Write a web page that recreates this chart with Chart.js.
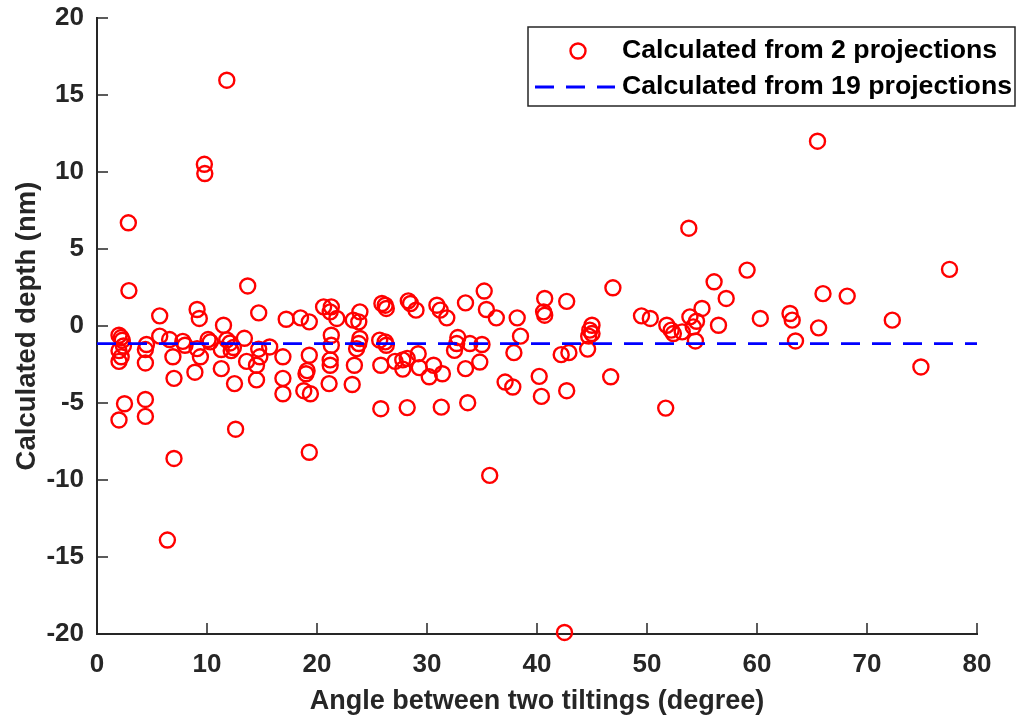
<!DOCTYPE html>
<html>
<head>
<meta charset="utf-8">
<script src="https://cdn.jsdelivr.net/npm/chart.js@4.4.0/dist/chart.umd.min.js"></script>
<style>
  html, body { margin: 0; padding: 0; background: #fff; }
  #wrap { width: 1020px; height: 715px; }
</style>
</head>
<body>
<div id="wrap"><canvas id="depthChart" width="1020" height="715"></canvas></div>
<script>
// angles (degree) and depths (nm) of the 2-projection estimates
const angles = [
  2.9, 13.7, 9.1, 9.3, 5.7, 14.7, 11.5, 17.2, 18.5, 19.3,
  2.0, 2.2, 2.3, 2.4, 2.0, 2.2, 2.0, 2.5, 2.0, 4.4,
  4.4, 4.5, 4.4, 4.4, 5.7, 6.6, 6.9, 7.0, 7.0, 7.8,
  8.0, 8.9, 9.4, 9.1, 10.1, 10.3, 11.3, 11.3, 12.1, 12.4,
  12.2, 11.8, 12.5, 12.6, 13.4, 13.6, 14.7, 14.8, 14.5, 14.5,
  15.7, 16.9, 16.9, 16.9, 19.3, 19.1, 19.0, 18.8, 19.4, 19.3,
  20.6, 21.3, 21.2, 21.8, 21.3, 21.3, 21.2, 21.2, 21.1, 23.3,
  23.9, 23.8, 23.9, 23.8, 23.6, 23.4, 23.2, 25.9, 26.2, 26.3,
  25.7, 26.2, 26.3, 25.8, 25.8, 28.3, 28.5, 29.0, 27.1, 27.8,
  28.2, 27.8, 29.2, 29.3, 30.2, 30.6, 31.4, 28.2, 30.9, 31.2,
  31.8, 32.8, 32.7, 32.5, 33.9, 35.0, 33.5, 34.8, 31.3, 33.7,
  33.5, 35.2, 35.4, 36.3, 35.7, 38.2, 38.5, 37.9, 37.1, 37.8,
  40.7, 40.6, 40.7, 42.7, 40.2, 40.4, 42.7, 42.2, 42.9, 46.9,
  45.0, 44.8, 45.0, 44.7, 44.6, 46.7, 49.5, 50.3, 51.7, 51.8,
  52.2, 52.4, 53.2, 53.9, 54.2, 54.5, 55.0, 54.4, 56.1, 57.2,
  56.5, 59.1, 60.3, 63.0, 63.2, 63.5, 66.0, 65.6, 68.2, 72.3,
  74.9, 77.5, 11.8, 9.76, 9.8, 2.85, 65.5, 6.4, 42.5, 53.8
];
const depths = [
  2.3, 2.6, 1.07, 0.49, 0.66, 0.85, 0.05, 0.44, 0.53, 0.27,
  -0.6, -0.75, -0.93, -1.3, -1.6, -2.0, -2.3, -5.05, -6.1, -4.77,
  -5.87, -1.2, -1.53, -2.4, -0.66, -0.88, -2.0, -3.4, -8.6, -1.0,
  -1.25, -3.0, -2.0, -1.47, -0.88, -1.03, -1.53, -2.77, -1.1, -1.4,
  -1.6, -0.9, -3.74, -6.7, -0.8, -2.3, -1.5, -2.0, -2.55, -3.5,
  -1.36, -2.0, -3.4, -4.4, -1.9, -2.9, -3.1, -4.2, -4.4, -8.2,
  1.24, 1.24, 0.92, 0.49, -0.6, -1.25, -2.2, -2.55, -3.74, 0.38,
  0.92, 0.27, -0.81, -1.14, -1.47, -2.55, -3.8, 1.46, 1.35, 1.14,
  -0.92, -1.03, -1.25, -2.55, -5.37, 1.63, 1.46, 1.03, -2.3, -2.2,
  -2.1, -2.8, -1.8, -2.7, -3.3, -2.55, -3.1, -5.3, 1.35, 1.03,
  0.53, -0.75, -1.14, -1.58, -1.14, -1.2, -2.77, -2.34, -5.27, -4.98,
  1.5, 2.27, 1.07, 0.53, -9.7, 0.53, -0.66, -1.73, -3.64, -3.96,
  1.79, 0.92, 0.7, 1.6, -3.27, -4.57, -4.2, -1.86, -1.73, 2.48,
  0.05, -0.27, -0.49, -0.66, -1.5, -3.3, 0.66, 0.49, -5.33, 0.05,
  -0.27, -0.49, -0.38, 0.59, -0.06, 0.31, 1.14, -0.97, 2.87, 1.79,
  0.05, 3.63, 0.49, 0.81, 0.38, -0.97, 2.1, -0.12, 1.94, 0.38,
  -2.66, 3.68, 15.96, 10.5, 9.9, 6.7, 12.0, -13.9, -19.9, 6.35
];

// result from 19 projections (constant)
const refDepth = -1.15;
const refAngles = [0, 80];

const xTicks = [0, 10, 20, 30, 40, 50, 60, 70, 80];
const yTicks = [-20, -15, -10, -5, 0, 5, 10, 15, 20];

const seriesLabels = ["Calculated from 2 projections", "Calculated from 19 projections"];

const axisColor = "#262626";
const fontFamily = "'Liberation Sans', Arial, Helvetica, sans-serif";

// MATLAB style ticks pointing into the axes
const inwardTicks = {
  id: "inwardTicks",
  afterDatasetsDraw(chart) {
    const { ctx, chartArea, scales } = chart;
    const len = 11;
    ctx.save();
    ctx.strokeStyle = axisColor;
    ctx.lineWidth = 1.5;
    ctx.beginPath();
    xTicks.forEach((v) => {
      const px = scales.x.getPixelForValue(v);
      ctx.moveTo(px, chartArea.bottom);
      ctx.lineTo(px, chartArea.bottom - len);
    });
    yTicks.forEach((v) => {
      const py = scales.y.getPixelForValue(v);
      ctx.moveTo(chartArea.left, py);
      ctx.lineTo(chartArea.left + len, py);
    });
    ctx.stroke();
    ctx.restore();
  },
};

// boxed legend in the upper right corner
const boxLegend = {
  id: "boxLegend",
  afterDraw(chart) {
    const { ctx } = chart;
    const ds = chart.data.datasets;
    const box = { left: 528, top: 27, right: 1015, bottom: 106 };
    ctx.save();
    ctx.fillStyle = "#fff";
    ctx.fillRect(box.left, box.top, box.right - box.left, box.bottom - box.top);
    ctx.strokeStyle = axisColor;
    ctx.lineWidth = 1.5;
    ctx.strokeRect(box.left, box.top, box.right - box.left, box.bottom - box.top);

    const row1 = 51, row2 = 87;
    // marker
    ctx.strokeStyle = ds[0].borderColor;
    ctx.lineWidth = ds[0].borderWidth;
    ctx.beginPath();
    ctx.arc(578, row1, ds[0].pointRadius, 0, Math.PI * 2);
    ctx.stroke();
    // dashed line
    ctx.strokeStyle = ds[1].borderColor;
    ctx.lineWidth = ds[1].borderWidth;
    ctx.setLineDash(ds[1].borderDash);
    ctx.beginPath();
    ctx.moveTo(535, row2);
    ctx.lineTo(615, row2);
    ctx.stroke();
    ctx.setLineDash([]);

    ctx.fillStyle = "#000";
    ctx.font = "bold 26.7px " + fontFamily;
    ctx.textBaseline = "middle";
    ctx.textAlign = "left";
    ctx.fillText(seriesLabels[0], 622, row1);
    ctx.fillText(seriesLabels[1], 622, row2);
    ctx.restore();
  },
};

new Chart(document.getElementById("depthChart"), {
  type: "scatter",
  data: {
    datasets: [
      {
        label: seriesLabels[0],
        data: angles.map((a, i) => ({ x: a, y: depths[i] })),
        showLine: false,
        pointStyle: "circle",
        pointRadius: 7.5,
        pointHoverRadius: 7.5,
        backgroundColor: "rgba(0,0,0,0)",
        borderColor: "#ff0000",
        borderWidth: 2.4,
        clip: false,
        order: 2,
      },
      {
        label: seriesLabels[1],
        data: refAngles.map((a) => ({ x: a, y: refDepth })),
        showLine: true,
        pointRadius: 0,
        borderColor: "#0000ff",
        borderWidth: 2.8,
        borderDash: [19, 12],
        fill: false,
        order: 1,
      },
    ],
  },
  options: {
    responsive: false,
    animation: false,
    events: [],
    layout: { padding: { top: 18, right: 43, left: 0, bottom: 0 } },
    plugins: {
      legend: { display: false },
      tooltip: { enabled: false },
    },
    scales: {
      x: {
        type: "linear",
        min: 0,
        max: 80,
        afterFit: (s) => {
          s.height = 81;
          s.paddingLeft = 0;
          s.paddingRight = 0;
        },
        afterBuildTicks: (s) => { s.ticks = xTicks.map((v) => ({ value: v })); },
        grid: { display: false, drawTicks: false },
        border: { display: true, color: axisColor, width: 2 },
        ticks: {
          color: axisColor,
          padding: 15,
          font: { family: fontFamily, size: 26, weight: "bold" },
        },
        title: {
          display: true,
          text: "Angle between two tiltings (degree)",
          color: axisColor,
          padding: { top: 4, bottom: 0 },
          font: { family: fontFamily, size: 27, weight: "bold", lineHeight: 1 },
        },
      },
      y: {
        type: "linear",
        min: -20,
        max: 20,
        afterFit: (s) => {
          s.width = 97;
          s.paddingTop = 0;
          s.paddingBottom = 0;
        },
        afterBuildTicks: (s) => { s.ticks = yTicks.map((v) => ({ value: v })); },
        grid: { display: false, drawTicks: false },
        border: { display: true, color: axisColor, width: 2 },
        ticks: {
          color: axisColor,
          padding: 13,
          font: { family: fontFamily, size: 26, weight: "bold" },
        },
        title: {
          display: true,
          text: "Calculated depth (nm)",
          color: axisColor,
          padding: { top: 14, bottom: 0 },
          font: { family: fontFamily, size: 27.5, weight: "bold", lineHeight: 1 },
        },
      },
    },
  },
  plugins: [inwardTicks, boxLegend],
});
</script>
</body>
</html>
